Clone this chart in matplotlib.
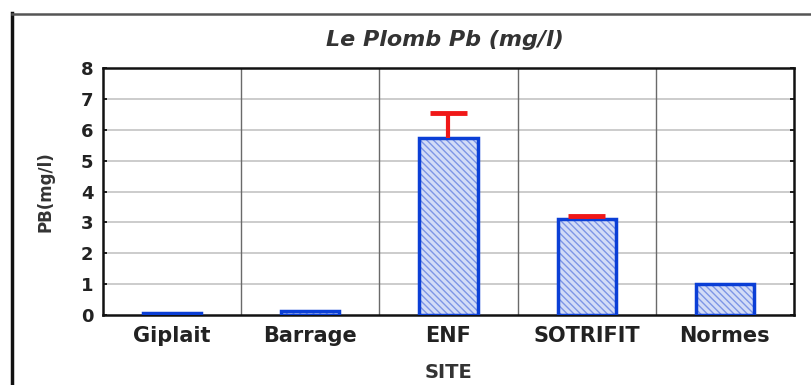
import matplotlib
matplotlib.use("Agg")
import matplotlib.pyplot as plt
from matplotlib.lines import Line2D
import numpy as np

plt.rcParams['font.family'] = ['DejaVu Sans']

# Lead concentration per site (mg/l) and upper error
sites = ['Giplait', 'Barrage', 'ENF', 'SOTRIFIT', 'Normes']
pb_mean = [0.05, 0.14, 5.72, 3.10, 1.0]
pb_err = [0.0, 0.0, 0.82, 0.12, 0.0]
yticks = [0, 1, 2, 3, 4, 5, 6, 7, 8]

fig = plt.figure(figsize=(8.11, 3.85), dpi=100)
ax = fig.add_axes([0.127, 0.182, 0.852, 0.641])

x = np.arange(len(sites))
width = 0.42
cap = 0.27

# hatched fill, then the blue outline on top
ax.bar(x, pb_mean, width, color='#d3dcf7', edgecolor='#7d95e6', hatch='\\\\\\\\\\', linewidth=0, zorder=3)
ax.bar(x, pb_mean, width, fill=False, edgecolor='#0b3fd6', linewidth=2.5, zorder=4)

# upper-only error bars: stem plus top cap
for i in range(len(sites)):
    if pb_err[i] > 0:
        top = pb_mean[i] + pb_err[i]
        ax.vlines(x[i], pb_mean[i], top, color='#f01818', linewidth=3, zorder=5)
        ax.hlines(top, x[i] - cap / 2, x[i] + cap / 2, color='#f01818', linewidth=3.5, zorder=5)

ax.set_xlim(-0.5, len(sites) - 0.5)
ax.set_ylim(0, 8)
ax.set_yticks(yticks)
ax.set_xticks(x)
ax.set_xticklabels(sites, fontsize=15, fontweight='bold', color='#222222')
ax.set_yticklabels([str(v) for v in yticks], fontsize=13, fontweight='bold', color='#222222')
ax.tick_params(axis='y', direction='in', length=3, width=1.2, right=True, pad=7)
ax.tick_params(axis='x', length=0, pad=8)

# horizontal grid and category separators
for v in yticks[1:-1]:
    ax.axhline(v, color='#c8c8c8', linewidth=1.3, zorder=1)
for b in np.arange(0.5, len(sites) - 0.5, 1):
    ax.axvline(b, color='#6a6a6a', linewidth=1.0, zorder=1)

for side in ['left', 'right', 'top', 'bottom']:
    ax.spines[side].set_linewidth(1.8)
    ax.spines[side].set_color('#111111')

ax.set_ylabel('PB(mg/l)', fontsize=12, fontweight='bold', color='#333333', labelpad=19)
ax.set_xlabel('SITE', fontsize=14, fontweight='bold', color='#333333', labelpad=12)
fig.text(0.549, 0.897, 'Le Plomb Pb (mg/l)', ha='center', va='center',
         fontsize=16, fontweight='bold', fontstyle='italic', color='#333333')

# outer frame around the figure
fig.add_artist(Line2D([0.0145, 0.0145], [0.0, 0.965], transform=fig.transFigure,
                      color='#111111', linewidth=2.5))
fig.add_artist(Line2D([0.0145, 1.0], [0.963, 0.963], transform=fig.transFigure,
                      color='#555555', linewidth=1.8))

fig.savefig('out.png', dpi=100)
